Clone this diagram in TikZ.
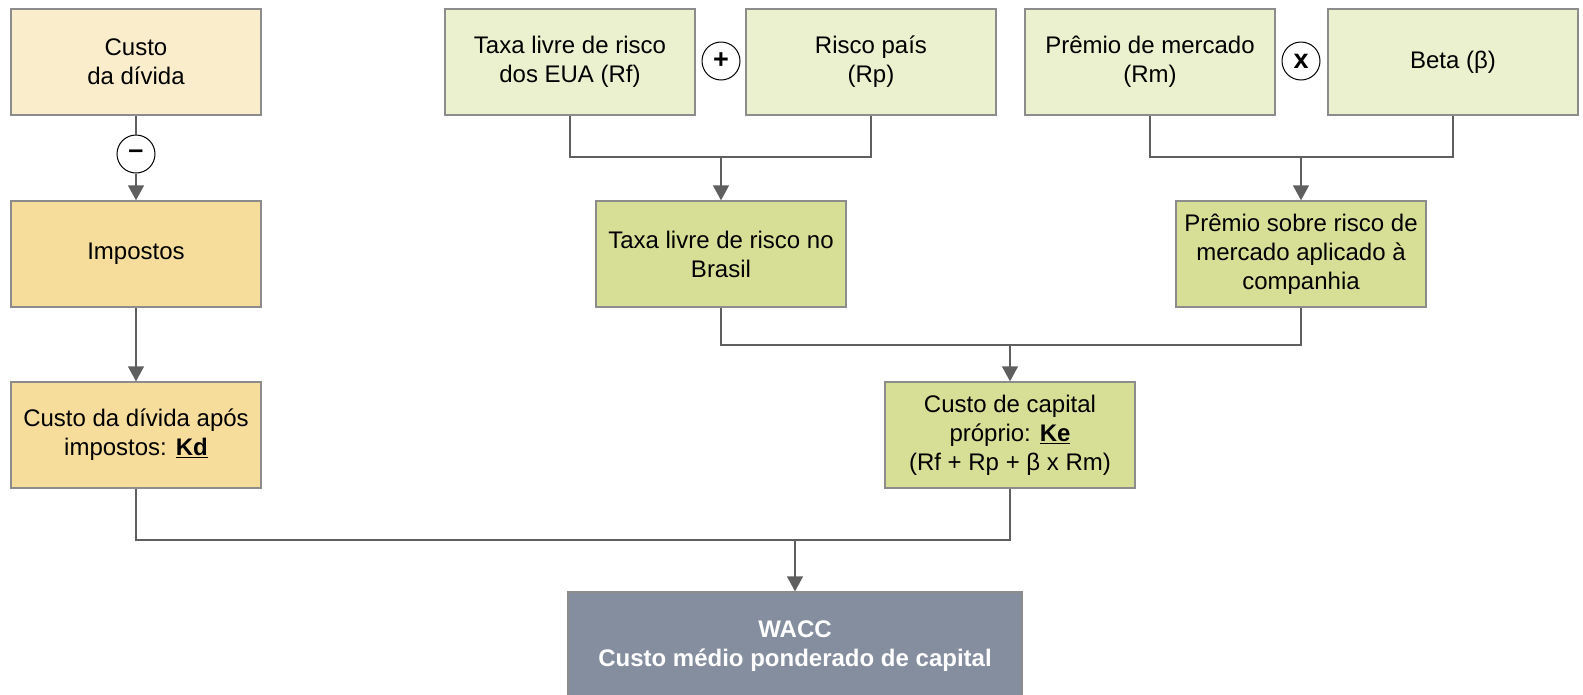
\documentclass[tikz,border=0pt]{standalone}
\usepackage{fontspec}
\setmainfont{Liberation Sans}
\usetikzlibrary{arrows.meta}
\definecolor{cream}{HTML}{FAEDCB}
\definecolor{gold}{HTML}{F6DD9C}
\definecolor{lgreen}{HTML}{EBF0CE}
\definecolor{mgreen}{HTML}{D7DF97}
\definecolor{slate}{HTML}{848E9E}
\definecolor{bordergray}{HTML}{8C8C8C}
\definecolor{linegray}{HTML}{5F5F5F}
\tikzset{
  box/.style={draw=bordergray, line width=1.4pt, minimum width=250pt, minimum height=106pt,
    inner sep=0pt, align=center, text=black, font=\fontsize{24}{29}\selectfont},
  opcircle/.style={circle, draw=black, line width=1pt, fill=white, minimum size=38pt,
    inner sep=0pt, font=\bfseries\fontsize{27}{28}\selectfont},
  conn/.style={draw=linegray, line width=1.4pt},
  arr/.style={conn, -{Triangle[length=15pt,width=16pt]}}
}
\begin{document}
\begin{tikzpicture}[x=1pt, y=-1pt]
\useasboundingbox (0,0) rectangle (1583,694);
% boxes
\node[box, fill=cream] (cd) at (136,62) {Custo\\da dívida};
\node[box, fill=gold] (imp) at (136,254) {Impostos};
\node[box, fill=gold] (kd) at (136,435) {Custo da dívida após\\impostos: \underline{\textbf{Kd}}};
\node[box, fill=lgreen] (rf) at (570,62) {Taxa livre de risco\\dos EUA (Rf)};
\node[box, fill=lgreen] (rp) at (871,62) {Risco país\\(Rp)};
\node[box, fill=lgreen] (rm) at (1150,62) {Prêmio de mercado\\(Rm)};
\node[box, fill=lgreen] (beta) at (1453,62) {Beta (β)};
\node[box, fill=mgreen] (br) at (721,254) {Taxa livre de risco no\\Brasil};
\node[box, fill=mgreen] (pr) at (1301,254) {Prêmio sobre risco de\\mercado aplicado à\\companhia};
\node[box, fill=mgreen] (ke) at (1010,435) {Custo de capital\\próprio: \underline{\textbf{Ke}}\\(Rf + Rp + β x Rm)};
\node[box, fill=slate, minimum width=454pt, minimum height=108pt, text=white,
  font=\bfseries\fontsize{24}{29}\selectfont] (wacc) at (795,646) {WACC\\Custo médio ponderado de capital};
% operators
\node[opcircle] (minus) at (136,154) {–};
\node[opcircle] (plus) at (721,61) {+};
\node[opcircle] (times) at (1301,61) {x};
% junctions
\coordinate (j1) at (721,157);
\coordinate (j2) at (1301,157);
\coordinate (j3) at (1010,345);
\coordinate (j4) at (795,540);
% connectors
\draw[conn] (cd.south) -- (minus.north);
\draw[arr] (minus.south) -- (imp.north);
\draw[arr] (imp.south) -- (kd.north);
\draw[conn] (rf.south) |- (j1) -| (rp.south);
\draw[arr] (j1) -- (br.north);
\draw[conn] (rm.south) |- (j2) -| (beta.south);
\draw[arr] (j2) -- (pr.north);
\draw[conn] (br.south) |- (j3) -| (pr.south);
\draw[arr] (j3) -- (ke.north);
\draw[conn] (kd.south) |- (j4) -| (ke.south);
\draw[arr] (j4) -- (wacc.north);
\end{tikzpicture}
\end{document}
